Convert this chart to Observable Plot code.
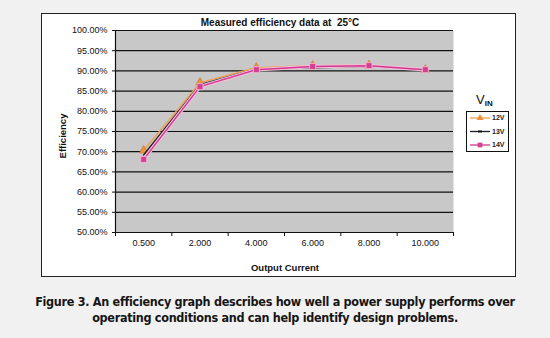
<!DOCTYPE html>
<html><head><meta charset="utf-8">
<script src="https://cdn.jsdelivr.net/npm/d3@7"></script>
<script src="https://cdn.jsdelivr.net/npm/@observablehq/plot@0.6"></script>
<style>
body{margin:0;background:#f1f1f1;}
#wrap{position:relative;width:550px;height:338px;overflow:hidden;font-family:Arial,"Liberation Sans",sans-serif;color:#111;}
#frame{position:absolute;left:41px;top:13px;width:475px;height:264px;background:#fff;border:1.5px solid #222;box-sizing:border-box}
#chart{position:absolute;left:0;top:0}
.t{position:absolute;font-weight:bold;white-space:nowrap}
#title{top:17px;left:0;width:560px;text-align:center;font-size:10px}
#xl{top:262px;left:0;width:570px;text-align:center;font-size:9.5px}
#yl{left:62px;top:136px;font-size:9.5px;transform:translate(-50%,-50%) rotate(-90deg)}
#vin{left:476px;top:92px;font-size:13px;font-weight:normal}
#vin sub{font-size:8px;font-weight:bold;vertical-align:-2px}
#legend{position:absolute;left:466px;top:111px;width:43px;height:41px;border:1.2px solid #111;background:#fff;box-sizing:border-box}
#caption{position:absolute;left:0;top:294px;width:550px;text-align:center;font-family:"DejaVu Sans Condensed","Liberation Sans Narrow",sans-serif;font-weight:bold;font-size:12.5px;letter-spacing:-0.3px;line-height:15.5px;color:#151515}
</style></head>
<body>
<div id="wrap">
  <div id="frame"></div>
  <div id="chart"></div>
  <div class="t" id="title">Measured efficiency data at&nbsp; 25°C</div>
  <div class="t" id="xl">Output Current</div>
  <div class="t" id="yl">Efficiency</div>
  <div class="t" id="vin">V<sub>IN</sub></div>
  <div id="legend"></div>
  <div id="caption">Figure 3. An efficiency graph describes how well a power supply performs over<br>operating conditions and can help identify design problems.</div>
</div>
<script>
const currents = ["0.500", "2.000", "4.000", "6.000", "8.000", "10.000"];
const eff12V = [70.3, 87.1, 90.8, 91.3, 91.4, 90.3];
const eff13V = [69.2, 86.6, 90.5, 90.8, 91.1, 90.3];
const eff14V = [68.1, 86.1, 90.3, 91.1, 91.3, 90.3];
const yTicks = [50, 55, 60, 65, 70, 75, 80, 85, 90, 95, 100];
const seriesNames = ["12V", "13V", "14V"];

const rows = (vals, s) => vals.map((v, i) => ({i, current: currents[i], v, series: s}));
const d12 = rows(eff12V, "12V"), d13 = rows(eff13V, "13V"), d14 = rows(eff14V, "14V");
const idx = currents.map((c, i) => i);
const bounds = [...idx.map(i => i - 0.5), currents.length - 0.5];

const plot = Plot.plot({
  width: 550, height: 290,
  marginLeft: 115, marginRight: 97, marginTop: 30, marginBottom: 58,
  style: {background: "transparent", fontFamily: "Arial, 'Liberation Sans', sans-serif", fontSize: "9px", color: "#111", overflow: "visible"},
  x: {type: "linear", domain: [-0.5, currents.length - 0.5], axis: null},
  y: {domain: [50, 100], axis: null},
  marks: [
    Plot.frame({fill: "#c8c8c8", stroke: null}),
    Plot.ruleY(yTicks, {stroke: "#111", strokeWidth: 1.2}),
    Plot.ruleX([-0.5], {stroke: "#111", strokeWidth: 1.2}),
    Plot.axisY(yTicks, {tickFormat: d => d.toFixed(2) + "%", tickSize: 3, tickPadding: 5, label: null, fontSize: 9}),
    Plot.axisX(idx, {tickFormat: i => currents[i], tickSize: 0, tickPadding: 7, label: null, fontSize: 9}),
    Plot.axisX(bounds, {tickFormat: () => "", tickSize: 4, label: null}),
    Plot.line(d12, {x: "i", y: "v", stroke: "#f0a050", strokeWidth: 1.5}),
    Plot.dot(d12, {x: "i", y: "v", symbol: "triangle", r: 3.2, fill: "#e89440", stroke: "#d07a30", strokeWidth: 0.8}),
    Plot.line(d13, {x: "i", y: "v", stroke: "#1c1c2c", strokeWidth: 1.5}),
    Plot.line(d14, {x: "i", y: "v", stroke: "#f6c0dc", strokeWidth: 3.5}),
    Plot.line(d14, {x: "i", y: "v", stroke: "#d2388f", strokeWidth: 1.5}),
    Plot.dot(d14, {x: "i", y: "v", symbol: "square", r: 3.4, fill: "#d2408f", stroke: "#f6c0dc", strokeWidth: 0.8})
  ]
});
document.getElementById("chart").appendChild(plot);

// legend
const leg = d3.select("#legend").append("svg").attr("width", 43).attr("height", 41)
  .style("font-family", "Arial, sans-serif").style("font-size", "7px").style("font-weight", "bold");
const legStyle = {
  "12V": {stroke: "#f0a050", sym: d3.symbolTriangle, fill: "#e89440"},
  "13V": {stroke: "#1c1c2c", sym: null},
  "14V": {stroke: "#d2388f", sym: d3.symbolSquare, fill: "#d2408f"}
};
seriesNames.forEach((s, k) => {
  const y = 6 + k * 13.5;
  const st = legStyle[s];
  leg.append("line").attr("x1", 3).attr("x2", 23).attr("y1", y).attr("y2", y).attr("stroke", st.stroke).attr("stroke-width", 1.3);
  if (st.sym) leg.append("path").attr("d", d3.symbol(st.sym, 22)()).attr("transform", `translate(13,${y})`).attr("fill", st.fill);
  else leg.append("line").attr("x1", 11).attr("x2", 15).attr("y1", y).attr("y2", y).attr("stroke", "#111").attr("stroke-width", 2);
  leg.append("text").attr("x", 25).attr("y", y).attr("dy", "0.35em").text(s).attr("fill", "#222");
});
</script>
</body></html>
